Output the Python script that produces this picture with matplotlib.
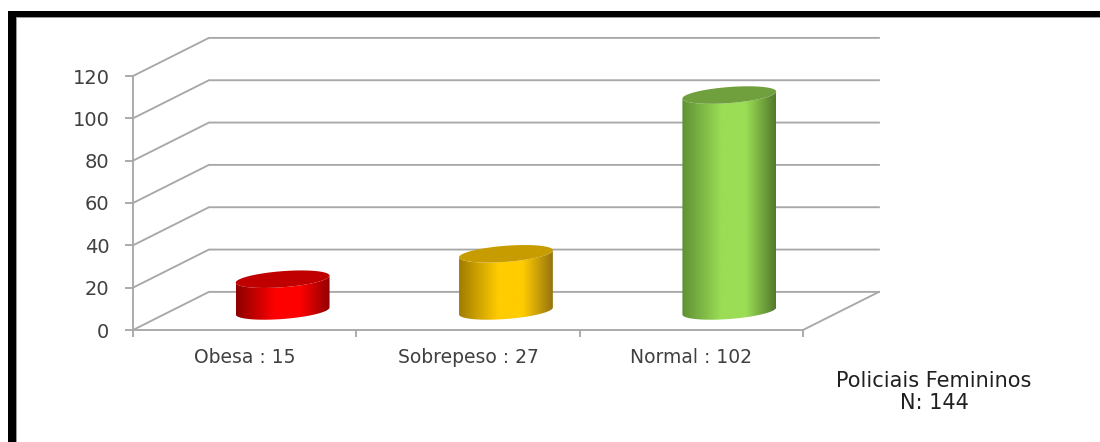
import numpy as np
import matplotlib
matplotlib.use("Agg")
import matplotlib.pyplot as plt
from matplotlib.colors import LinearSegmentedColormap
from matplotlib.patches import Polygon, Rectangle

categories = ["Obesa : 15", "Sobrepeso : 27", "Normal : 102"]
values = [15, 27, 102]
y_ticks = [0, 20, 40, 60, 80, 100, 120]
note = "Policiais Femininos\nN: 144"

# dark edge, bright middle, dark edge, then the top cap
side_dark = ["#8c0000", "#a07c00", "#5f9034"]
side_light = ["#ff0000", "#ffcc00", "#9bdd55"]
side_right = ["#900000", "#967410", "#527a2c"]
cap = ["#c00000", "#c69c00", "#709f3e"]

W, H = 1100, 442
GRAY = "#a8a8a8"
LW = 1.35
# depth of the fake 3d box, in data units
DX = 0.34
DY = 18
BAR_W = 0.42
ELL_H = 3.8
SKEW = 1.65

fig = plt.figure(figsize=(W / 100, H / 100), dpi=100)
ax = fig.add_axes([133 / W, (H - 330) / H, 670 / W, 254 / H])
ax.patch.set_visible(False)

# walls
for v in y_ticks:
    xs = [0, DX, 3 + DX]
    ys = [v, v + DY, v + DY]
    ax.plot(xs, ys, color=GRAY, lw=LW, clip_on=False, zorder=1)
ax.plot([3, 3 + DX], [0, DY], color=GRAY, lw=LW, clip_on=False, zorder=1)


def ellipse(cx, base, t):
    x = cx + BAR_W / 2 * np.cos(t)
    y = base + ELL_H * np.sin(t) + SKEW * np.cos(t)
    return x, y


for i, v in enumerate(values):
    cx = i + 0.5 + DX / 2
    base = DY / 2
    top = base + v

    # body: lower half of the bottom ellipse, back along the top edge
    t_low = np.linspace(np.pi, 2 * np.pi, 60)
    t_up = np.linspace(0, -np.pi, 60)
    xb, yb = ellipse(cx, base, t_low)
    xt, yt = ellipse(cx, top, t_up)
    body = Polygon(np.column_stack([np.r_[xb, xt], np.r_[yb, yt]]),
                   closed=True, fc="none", ec="none", zorder=2)
    ax.add_patch(body)

    cmap = LinearSegmentedColormap.from_list(
        "c%d" % i,
        [(0, side_dark[i]), (0.42, side_light[i]), (0.68, side_light[i]), (1, side_right[i])])
    grad = np.linspace(0, 1, 256).reshape(1, -1)
    im = ax.imshow(grad, cmap=cmap, aspect="auto", interpolation="bilinear", zorder=3,
                   extent=[cx - BAR_W / 2, cx + BAR_W / 2, base - 6, top + 6])
    im.set_clip_path(body)

    t = np.linspace(0, 2 * np.pi, 120)
    xc, yc = ellipse(cx, top, t)
    ax.fill(xc, yc, color=cap[i], lw=0, zorder=4)

ax.set_xlim(0, 3)
ax.set_ylim(0, 120)

for s in ["top", "right"]:
    ax.spines[s].set_visible(False)
for s in ["left", "bottom"]:
    ax.spines[s].set_color(GRAY)
    ax.spines[s].set_linewidth(LW)

ax.set_yticks(y_ticks)
ax.set_xticks([0, 1, 2, 3])
ax.set_xticklabels([])
ax.set_xticks([0.5, 1.5, 2.5], minor=True)
ax.set_xticklabels(categories, minor=True)
ax.tick_params(axis="y", length=6, width=LW, color=GRAY, labelsize=14,
               labelcolor="#404040", pad=11)
ax.tick_params(axis="x", which="major", length=5, width=LW, color=GRAY)
ax.tick_params(axis="x", which="minor", length=0, labelsize=13.5,
               labelcolor="#404040", pad=13)

fig.text(934 / W, 1 - 392 / H, note, ha="center", va="center", fontsize=15,
         color="#202020", linespacing=1.12)

# black frame, open on the right and at the bottom
fig.add_artist(Rectangle((8 / W, 0), 8 / W, 1 - 11 / H, transform=fig.transFigure,
                         fc="black", ec="none"))
fig.add_artist(Rectangle((8 / W, 1 - 17 / H), 1 - 8 / W, 6 / H, transform=fig.transFigure,
                         fc="black", ec="none"))
fig.add_artist(Rectangle((16 / W, 0), 1 / W, 1 - 17 / H, transform=fig.transFigure,
                         fc="#999999", ec="none"))
fig.add_artist(Rectangle((16 / W, 1 - 18 / H), 1 - 16 / W, 1 / H, transform=fig.transFigure,
                         fc="#999999", ec="none"))

fig.savefig("out.png", dpi=100)
